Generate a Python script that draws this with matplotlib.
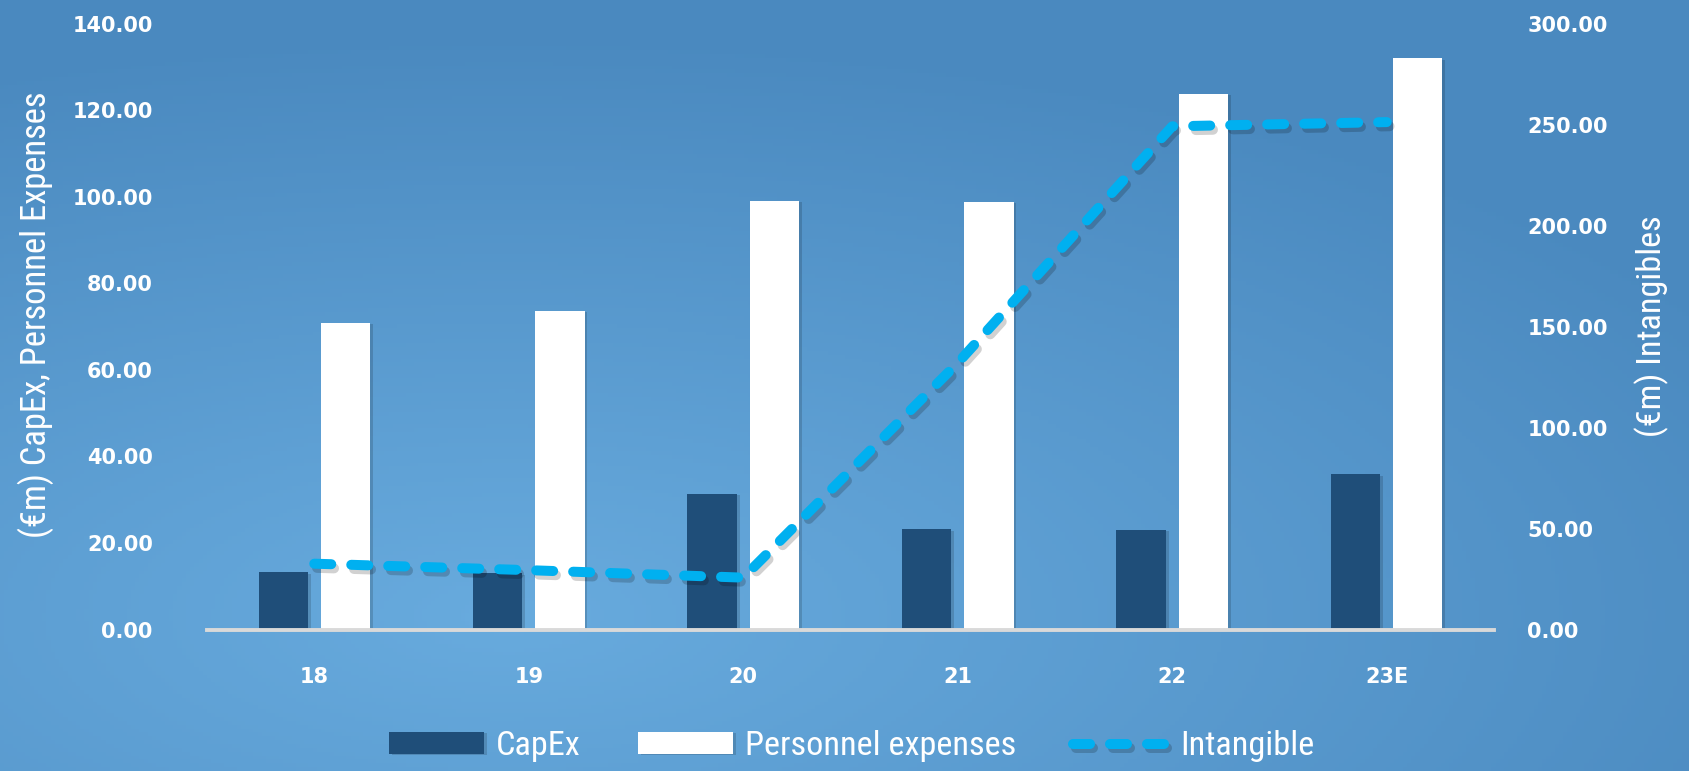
import numpy as np
import matplotlib
matplotlib.use("Agg")
import matplotlib.pyplot as plt
import matplotlib.patheffects as pe
from matplotlib import font_manager as fm

years = ["18", "19", "20", "21", "22", "23E"]
capex = [13.2, 13.0, 31.4, 23.2, 23.0, 35.9]
personnel = [70.9, 73.6, 99.1, 98.8, 123.8, 132.0]
intangible = [32.6, 29.4, 25.7, 132.0, 249.2, 251.3]

left_ticks = [0, 20, 40, 60, 80, 100, 120, 140]
right_ticks = [0, 50, 100, 150, 200, 250, 300]

capex_col = "#1F4E79"
line_col = "#00B0F0"

# pick a narrow font (Calibri-like) if one is installed
narrow = None
for key in ["LiberationSansNarrow-Regular", "RobotoCondensed-Regular", "OpenSans_Condensed-Regular",
            "OpenSansCondensed-Regular", "DejaVuSansCondensed.ttf"]:
    for f in fm.fontManager.ttflist:
        if key in f.fname:
            narrow = fm.FontProperties(fname=f.fname)
            break
    if narrow is not None:
        break
if narrow is None:
    narrow = fm.FontProperties(family="DejaVu Sans")

fig = plt.figure(figsize=(16.9, 7.71), dpi=100)

# blue gradient background
bg = fig.add_axes([0, 0, 1, 1], zorder=-10)
gx, gy = np.meshgrid(np.linspace(0, 1, 400), np.linspace(0, 1, 200))
d = np.sqrt(((gx - 0.3) / 1.0) ** 2 + ((gy - 0.2) / 0.9) ** 2)
t = np.clip(d / 0.85, 0, 1)
light = np.array([104, 171, 222]) / 255
dark = np.array([74, 137, 191]) / 255
img = light[None, None, :] * (1 - t[..., None]) + dark[None, None, :] * t[..., None]
bg.imshow(img, origin="lower", extent=[0, 1, 0, 1], aspect="auto")
bg.axis("off")

ax = fig.add_axes([0.1225, 0.1835, 0.7615, 0.7857])
ax.patch.set_alpha(0)
x = np.arange(len(years))
w = 0.23
b1 = ax.bar(x - 0.145, capex, w, color=capex_col, label="CapEx", zorder=2)
b2 = ax.bar(x + 0.145, personnel, w, color="white", label="Personnel expenses", zorder=2)
for r in list(b1) + list(b2):
    r.set_path_effects([pe.SimplePatchShadow(offset=(2, -1), shadow_rgbFace="black", alpha=0.15), pe.Normal()])

ax.set_xlim(-0.5, len(years) - 0.5)
ax.set_ylim(0, 140)
ax.set_yticks(left_ticks)
ax.set_yticklabels([f"{v:.2f}" for v in left_ticks])
ax.set_xticks(x)
ax.set_xticklabels(years)
for s in ["top", "right", "left"]:
    ax.spines[s].set_visible(False)
ax.spines["bottom"].set_color("#D9D9D9")
ax.spines["bottom"].set_linewidth(2.8)
ax.tick_params(axis="y", length=0, pad=39, labelsize=15, labelcolor="white")
ax.tick_params(axis="x", length=0, pad=27, labelsize=15, labelcolor="white")
for lab in ax.get_xticklabels() + ax.get_yticklabels():
    lab.set_fontweight("bold")

ax2 = ax.twinx()
ax2.patch.set_alpha(0)
ln, = ax2.plot(x, intangible, color=line_col, lw=7.2, linestyle=(0, (1.7, 2.0)),
               dash_capstyle="round", solid_capstyle="round", label="Intangible", zorder=3)
ln.set_path_effects([pe.SimpleLineShadow(offset=(2, -3), shadow_color="black", alpha=0.18), pe.Normal()])
ax2.set_ylim(0, 300)
ax2.set_yticks(right_ticks)
ax2.set_yticklabels([f"{v:.2f}" for v in right_ticks])
for s in ax2.spines.values():
    s.set_visible(False)
ax2.tick_params(axis="y", length=0, pad=24, labelsize=15, labelcolor="white")
for lab in ax2.get_yticklabels():
    lab.set_fontweight("bold")

renderer = fig.canvas.get_renderer()


def fit_size(txt, target_px, horizontal=True):
    # scale the font so the text spans about target_px
    txt.set_fontsize(20)
    bb = txt.get_window_extent(renderer)
    span = bb.width if horizontal else bb.height
    txt.set_fontsize(20 * target_px / span)


yl = fig.text(36 / 1690, 1 - 315 / 771, "(€m) CapEx, Personnel Expenses", rotation=90,
              ha="center", va="center", color="white", fontproperties=narrow)
fit_size(yl, 447, horizontal=False)
yr = fig.text(1652 / 1690, 1 - 326 / 771, "(€m) Intangibles", rotation=90,
              ha="center", va="center", color="white", fontproperties=narrow)
fit_size(yr, 221, horizontal=False)

probe = fig.text(0, 0, "Personnel expenses", fontproperties=narrow)
fit_size(probe, 271)
leg_size = probe.get_fontsize()
probe.remove()

leg_font = narrow.copy()
leg_font.set_size(leg_size)
leg = fig.legend([b1, b2, ln], ["CapEx", "Personnel expenses", "Intangible"],
                 loc="center", bbox_to_anchor=(852 / 1690, 25 / 771), ncol=3, frameon=False,
                 prop=leg_font, handlelength=95 / (leg_size * 100 / 72), handleheight=0.6,
                 handletextpad=0.35, columnspacing=57 / (leg_size * 100 / 72))
for txt in leg.get_texts():
    txt.set_color("white")

fig.savefig("out.png", dpi=100)
